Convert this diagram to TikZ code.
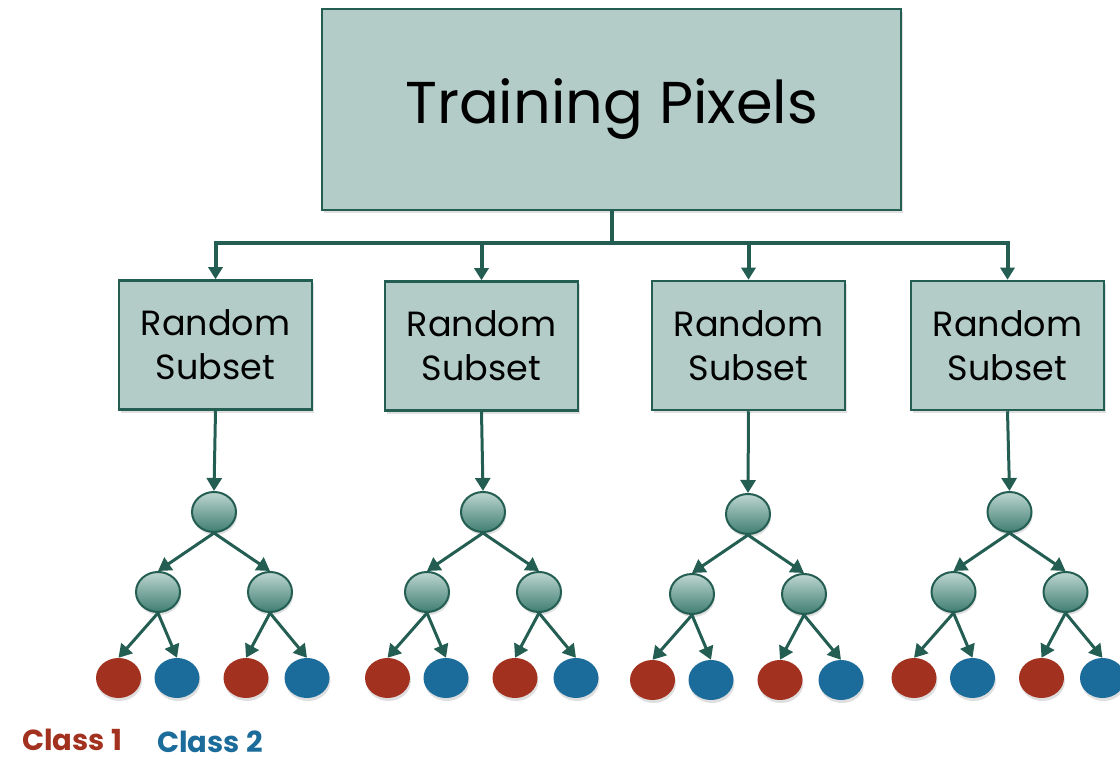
\documentclass[tikz,border=0pt]{standalone}
\usepackage{fontspec}
\setmainfont{Poppins}
\usetikzlibrary{shapes.geometric,arrows.meta,shadows}
\definecolor{boxfill}{HTML}{B3CCC7}
\definecolor{boxline}{HTML}{245E53}
\definecolor{nodetop}{HTML}{BDD6D0}
\definecolor{nodebot}{HTML}{3F7E71}
\definecolor{cred}{HTML}{A2321F}
\definecolor{cblue}{HTML}{1B6C9B}
\tikzset{
  bigbox/.style={draw=boxline, line width=2.5pt, fill=boxfill, minimum width=579pt, minimum height=201pt, inner sep=0pt,
    drop shadow={shadow xshift=2pt, shadow yshift=-3pt, opacity=0.25}},
  subbox/.style={draw=boxline, line width=2.5pt, fill=boxfill, minimum width=193pt, minimum height=129pt, inner sep=0pt, align=center,
    font=\fontsize{35}{44}\selectfont, drop shadow={shadow xshift=2pt, shadow yshift=-3pt, opacity=0.25}},
  tnode/.style={ellipse, draw=boxline, line width=2pt, top color=nodetop, bottom color=nodebot, minimum width=44pt, minimum height=40pt, inner sep=0pt,
    drop shadow={shadow xshift=1pt, shadow yshift=-3pt, opacity=0.25}},
  rleaf/.style={ellipse, fill=cred, minimum width=45pt, minimum height=40pt, inner sep=0pt, drop shadow={shadow xshift=1pt, shadow yshift=-3pt, opacity=0.25}},
  bleaf/.style={ellipse, fill=cblue, minimum width=45pt, minimum height=40pt, inner sep=0pt, drop shadow={shadow xshift=1pt, shadow yshift=-3pt, opacity=0.25}},
  busline/.style={draw=boxline, line width=4pt, -{Triangle[length=12pt,width=14pt]}},
  arr/.style={draw=boxline, line width=3pt, -{Triangle[length=13pt,width=15pt]}},
  lbl/.style={font=\bfseries\fontsize{29}{33}\selectfont, inner sep=0pt, anchor=base west},
}
\begin{document}
\begin{tikzpicture}[x=1pt,y=-1pt]
\useasboundingbox (0,0) rectangle (1120,762);
\node[bigbox] (top) at (611.5,109.5) {\fontsize{59}{64}\selectfont Training Pixels};
\coordinate (bus) at (611.5,243);
\node[subbox] (s1) at (215.5,345) {Random\\Subset};
\node[subbox] (s2) at (481.5,346) {Random\\Subset};
\node[subbox] (s3) at (748.5,345.5) {Random\\Subset};
\node[subbox] (s4) at (1007.5,345.5) {Random\\Subset};
\foreach \i in {1,...,4}{
  \draw[busline] (top.south) -- (bus) -| (s\i.north);
}
% trees
\foreach \i/\x/\y in {1/214/512, 2/483/512, 3/748/514, 4/1009.5/512}{
  \node[tnode] (r\i) at (\x,\y) {};
  \node[tnode] (a\i) at (\x-56,\y+80) {};
  \node[tnode] (b\i) at (\x+56,\y+80) {};
  \node[rleaf] (la\i) at (\x-95.5,\y+166) {};
  \node[bleaf] (lb\i) at (\x-37,\y+166) {};
  \node[rleaf] (lc\i) at (\x+32,\y+166) {};
  \node[bleaf] (ld\i) at (\x+93,\y+166) {};
  \draw[arr] (s\i.south) -- (r\i.north);
  \draw[arr] (r\i.south) -- (a\i.north);
  \draw[arr] (r\i.south) -- (b\i.north);
  \draw[arr] (a\i.south) -- (la\i.north);
  \draw[arr] (a\i.south) -- (lb\i.north);
  \draw[arr] (b\i.south) -- (lc\i.north);
  \draw[arr] (b\i.south) -- (ld\i.north);
}
\node[lbl, text=cred] (c1) at (22,750) {Class 1};
\node[lbl, text=cblue] (c2) at (157,752) {Class 2};
\end{tikzpicture}
\end{document}
